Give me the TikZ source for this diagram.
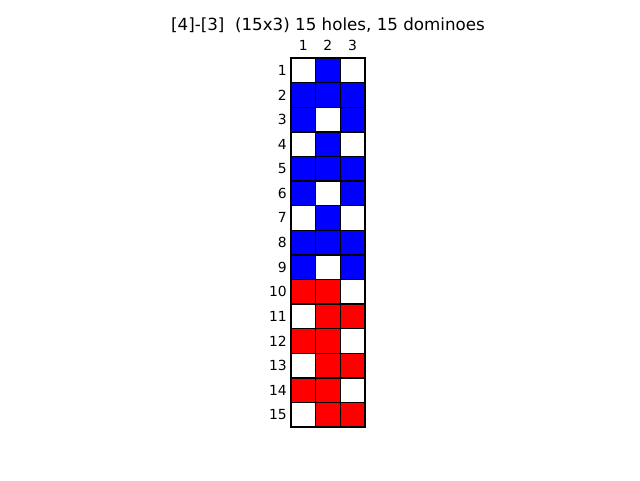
\documentclass[tikz,border=0pt]{standalone}
\usepackage{fontspec}
\setmainfont{DejaVu Sans}
\begin{document}
\begin{tikzpicture}[x=1pt,y=-1pt,
  cell/.style={draw=black,line width=1.4pt,minimum size=24.6pt,inner sep=0pt,outer sep=0pt,anchor=center},
  lbl/.style={font=\fontsize{13.9}{16}\selectfont,inner sep=0pt},
  ttl/.style={font=\fontsize{16.7}{20}\selectfont,inner sep=0pt}]
\useasboundingbox (0,0) rectangle (640,480);
\node[ttl] (title) at (328,25) {[4]-[3]\ \ (15x3) 15 holes, 15 dominoes};
\foreach \c in {1,2,3}{
  \node[lbl] (c\c) at ({291+24.6*(\c-0.5)},45) {\c};
}
\foreach \r in {1,...,15}{
  \node[lbl,anchor=east] (r\r) at (287,{58+24.6*(\r-0.5)}) {\r};
}
\foreach \r/\a/\b/\cc in {1/white/blue/white,2/blue/blue/blue,3/blue/white/blue,4/white/blue/white,5/blue/blue/blue,6/blue/white/blue,7/white/blue/white,8/blue/blue/blue,9/blue/white/blue,10/red/red/white,11/white/red/red,12/red/red/white,13/white/red/red,14/red/red/white,15/white/red/red}{
  \node[cell,fill=\a] (g\r-1) at ({291+24.6*0.5},{58+24.6*(\r-0.5)}) {};
  \node[cell,fill=\b] (g\r-2) at ({291+24.6*1.5},{58+24.6*(\r-0.5)}) {};
  \node[cell,fill=\cc] (g\r-3) at ({291+24.6*2.5},{58+24.6*(\r-0.5)}) {};
}
\end{tikzpicture}
\end{document}
